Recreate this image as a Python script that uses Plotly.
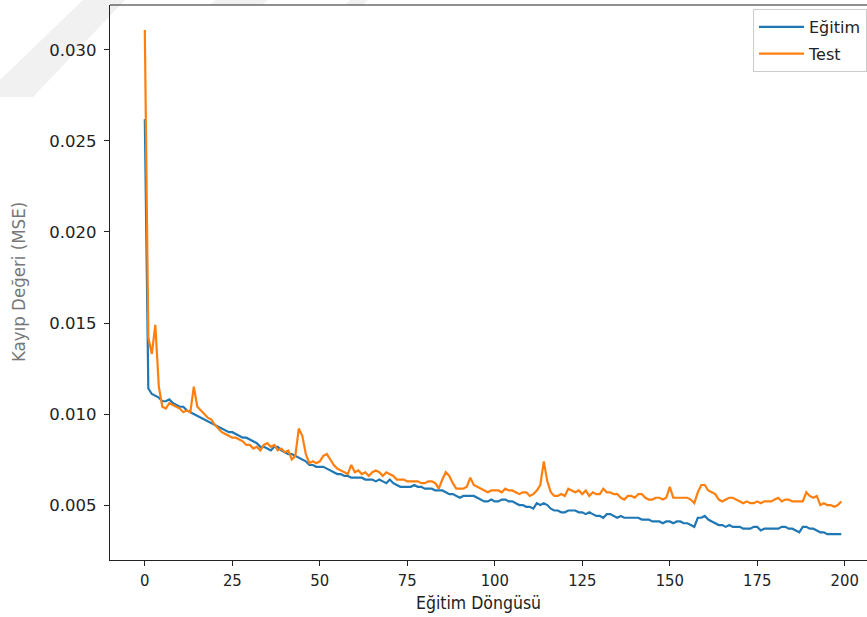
import plotly.graph_objects as go

epochs = list(range(200))

train_loss = [
    0.0262, 0.0114, 0.0111, 0.0110, 0.0109, 0.0107, 0.0107, 0.0108, 0.0106, 0.0105,
    0.0104, 0.0104, 0.0102, 0.0101, 0.0100, 0.0099, 0.0098, 0.0097, 0.0096, 0.0095,
    0.0094, 0.0093, 0.0092, 0.0091, 0.0090, 0.0090, 0.0089, 0.0088, 0.0087, 0.0087,
    0.0086, 0.0085, 0.0084, 0.0082, 0.0082, 0.0081, 0.0080, 0.0082, 0.0082, 0.0080,
    0.0079, 0.0078, 0.0078, 0.0077, 0.0076, 0.0075, 0.0074, 0.0072, 0.0072, 0.0071,
    0.0071, 0.0071, 0.0070, 0.0069, 0.0068, 0.0067, 0.0067, 0.0066, 0.0066, 0.0065,
    0.0065, 0.0065, 0.0065, 0.0064, 0.0064, 0.0064, 0.0063, 0.0064, 0.0063, 0.0062,
    0.0064, 0.0062, 0.0061, 0.0060, 0.0060, 0.0060, 0.0060, 0.0061, 0.0060, 0.0060,
    0.0059, 0.0059, 0.0059, 0.0058, 0.0058, 0.0058, 0.0057, 0.0056, 0.0056, 0.0055,
    0.0054, 0.0055, 0.0055, 0.0055, 0.0055, 0.0054, 0.0053, 0.0052, 0.0052, 0.0053,
    0.0052, 0.0052, 0.0053, 0.0053, 0.0052, 0.0052, 0.0051, 0.0050, 0.0050, 0.0049,
    0.0049, 0.0048, 0.0051, 0.0050, 0.0051, 0.0050, 0.0048, 0.0047, 0.0047, 0.0046,
    0.0046, 0.0047, 0.0047, 0.0047, 0.0046, 0.0046, 0.0045, 0.0046, 0.0045, 0.0044,
    0.0044, 0.0043, 0.0045, 0.0045, 0.0044, 0.0043, 0.0044, 0.0043, 0.0043, 0.0043,
    0.0043, 0.0043, 0.0042, 0.0042, 0.0042, 0.0041, 0.0041, 0.0041, 0.0040, 0.0041,
    0.0041, 0.0040, 0.0041, 0.0041, 0.0040, 0.0040, 0.0039, 0.0038, 0.0043, 0.0043,
    0.0044, 0.0042, 0.0041, 0.0040, 0.0039, 0.0039, 0.0038, 0.0039, 0.0038, 0.0038,
    0.0038, 0.0037, 0.0037, 0.0037, 0.0038, 0.0038, 0.0036, 0.0037, 0.0037, 0.0037,
    0.0037, 0.0037, 0.0038, 0.0038, 0.0037, 0.0037, 0.0036, 0.0035, 0.0038, 0.0038,
    0.0037, 0.0037, 0.0036, 0.0035, 0.0035, 0.0034, 0.0034, 0.0034, 0.0034, 0.0034,
]

test_loss = [
    0.0311, 0.0142, 0.0133, 0.0149, 0.0115, 0.0104, 0.0103, 0.0106, 0.0105, 0.0104,
    0.0103, 0.0101, 0.0102, 0.0101, 0.0115, 0.0104, 0.0102, 0.0100, 0.0098, 0.0097,
    0.0094, 0.0092, 0.0090, 0.0089, 0.0088, 0.0087, 0.0087, 0.0086, 0.0085, 0.0083,
    0.0083, 0.0081, 0.0082, 0.0080, 0.0083, 0.0084, 0.0082, 0.0083, 0.0080, 0.0081,
    0.0079, 0.0080, 0.0075, 0.0077, 0.0092, 0.0088, 0.0078, 0.0073, 0.0074, 0.0073,
    0.0074, 0.0077, 0.0078, 0.0075, 0.0072, 0.0070, 0.0069, 0.0068, 0.0067, 0.0072,
    0.0068, 0.0069, 0.0067, 0.0068, 0.0066, 0.0068, 0.0069, 0.0068, 0.0066, 0.0068,
    0.0067, 0.0066, 0.0064, 0.0064, 0.0064, 0.0063, 0.0063, 0.0063, 0.0063, 0.0062,
    0.0062, 0.0063, 0.0063, 0.0062, 0.0059, 0.0064, 0.0068, 0.0066, 0.0062, 0.0059,
    0.0059, 0.0059, 0.0060, 0.0065, 0.0061, 0.0060, 0.0059, 0.0058, 0.0057, 0.0058,
    0.0058, 0.0058, 0.0057, 0.0059, 0.0058, 0.0058, 0.0057, 0.0056, 0.0057, 0.0057,
    0.0055, 0.0056, 0.0058, 0.0061, 0.0074, 0.0063, 0.0057, 0.0055, 0.0055, 0.0056,
    0.0055, 0.0059, 0.0058, 0.0057, 0.0058, 0.0056, 0.0058, 0.0055, 0.0057, 0.0056,
    0.0056, 0.0059, 0.0057, 0.0057, 0.0056, 0.0056, 0.0054, 0.0053, 0.0055, 0.0055,
    0.0054, 0.0056, 0.0056, 0.0054, 0.0053, 0.0053, 0.0054, 0.0054, 0.0053, 0.0054,
    0.0060, 0.0054, 0.0054, 0.0054, 0.0054, 0.0054, 0.0053, 0.0051, 0.0057, 0.0061,
    0.0061, 0.0058, 0.0057, 0.0056, 0.0053, 0.0052, 0.0053, 0.0054, 0.0054, 0.0053,
    0.0052, 0.0051, 0.0052, 0.0051, 0.0051, 0.0052, 0.0051, 0.0052, 0.0052, 0.0052,
    0.0053, 0.0054, 0.0052, 0.0053, 0.0053, 0.0052, 0.0052, 0.0052, 0.0052, 0.0057,
    0.0055, 0.0054, 0.0055, 0.0050, 0.0051, 0.0050, 0.0050, 0.0049, 0.0050, 0.0052,
]

series_names = ["Eğitim", "Test"]
x_ticks = [0, 25, 50, 75, 100, 125, 150, 175, 200]
y_ticks = [0.005, 0.010, 0.015, 0.020, 0.025, 0.030]
x_title = "Eğitim Döngüsü"
y_title = "Kayıp Değeri (MSE)"

W, H = 867, 617
L, R, T, B = 110, 0, 5, 57
PW, PH = W - L - R, H - T - B

def px(xp):
    return (xp - L) / PW

def py(yp):
    return (H - B - yp) / PH

fig = go.Figure()
fig.add_trace(go.Scatter(x=epochs, y=train_loss, mode="lines", name=series_names[0],
                         legendgroup="g1",
                         line=dict(color="#1f77b4", width=2.2)))
fig.add_trace(go.Scatter(x=epochs, y=test_loss, mode="lines", name=series_names[1],
                         legendgroup="g2",
                         line=dict(color="#ff7f0e", width=2.2)))

cond_font = "DejaVu Sans Condensed, Liberation Sans Narrow, Roboto Condensed, DejaVu Sans"

fig.update_layout(
    width=W, height=H,
    margin=dict(l=L, r=R, t=T, b=B, pad=0),
    paper_bgcolor="white", plot_bgcolor="white",
    showlegend=True,
    legend=dict(x=1.0, y=py(9), xanchor="right", yanchor="top",
                bgcolor="rgba(255,255,255,0.8)", bordercolor="#cccccc", borderwidth=1,
                font=dict(family="DejaVu Sans", size=16, color="#222"),
                tracegroupgap=3, itemwidth=45),
    xaxis=dict(range=[-9.95, 206.35], tickmode="array", tickvals=x_ticks,
               ticks="outside", ticklen=5, tickwidth=1.2, tickcolor="#222",
               showline=True, linecolor="#222", linewidth=1.2, mirror=False,
               showgrid=False, zeroline=False,
               tickfont=dict(family=cond_font, size=16.5, color="#222")),
    yaxis=dict(range=[0.00198, 0.03247], tickmode="array", tickvals=y_ticks,
               tickformat=".3f", ticklabelstandoff=4,
               ticks="outside", ticklen=5, tickwidth=1.2, tickcolor="#222",
               showline=True, linecolor="#222", linewidth=1.2, mirror=False,
               showgrid=False, zeroline=False,
               tickfont=dict(family="DejaVu Sans", size=16.5, color="#222")),
    shapes=[
        dict(type="path", xref="paper", yref="paper", layer="below",
             path=f"M {px(0)},{py(80)} L {px(83)},{py(0)} L {px(125)},{py(0)} L {px(33)},{py(97)} L {px(0)},{py(97)} Z",
             fillcolor="#f1f1f1", line=dict(width=0)),
        dict(type="path", xref="paper", yref="paper", layer="below",
             path=f"M {px(210)},{py(5)} L {px(215)},{py(0)} L {px(268)},{py(0)} L {px(262)},{py(5)} Z",
             fillcolor="#f1f1f1", line=dict(width=0)),
        dict(type="path", xref="paper", yref="paper", layer="below",
             path=f"M {px(345)},{py(5)} L {px(350)},{py(0)} L {px(368)},{py(0)} L {px(363)},{py(5)} Z",
             fillcolor="#f1f1f1", line=dict(width=0)),
        dict(type="line", xref="paper", yref="paper", x0=0, x1=1, y0=1, y1=1,
             line=dict(color="#222", width=1.2)),
    ],
    annotations=[
        dict(text=x_title, xref="paper", yref="paper", x=px(478), y=py(603),
             xanchor="center", yanchor="middle", showarrow=False,
             font=dict(family=cond_font, size=17.5, color="#222")),
        dict(text=y_title, xref="paper", yref="paper", x=px(18), y=py(282),
             xanchor="center", yanchor="middle", showarrow=False, textangle=-90,
             font=dict(family=cond_font, size=18.5, color="#777")),
    ],
)

fig.write_html("out.html", config={"displayModeBar": False},
               post_script="document.body.style.margin='0';document.body.style.padding='0';document.body.style.overflow='hidden';")
